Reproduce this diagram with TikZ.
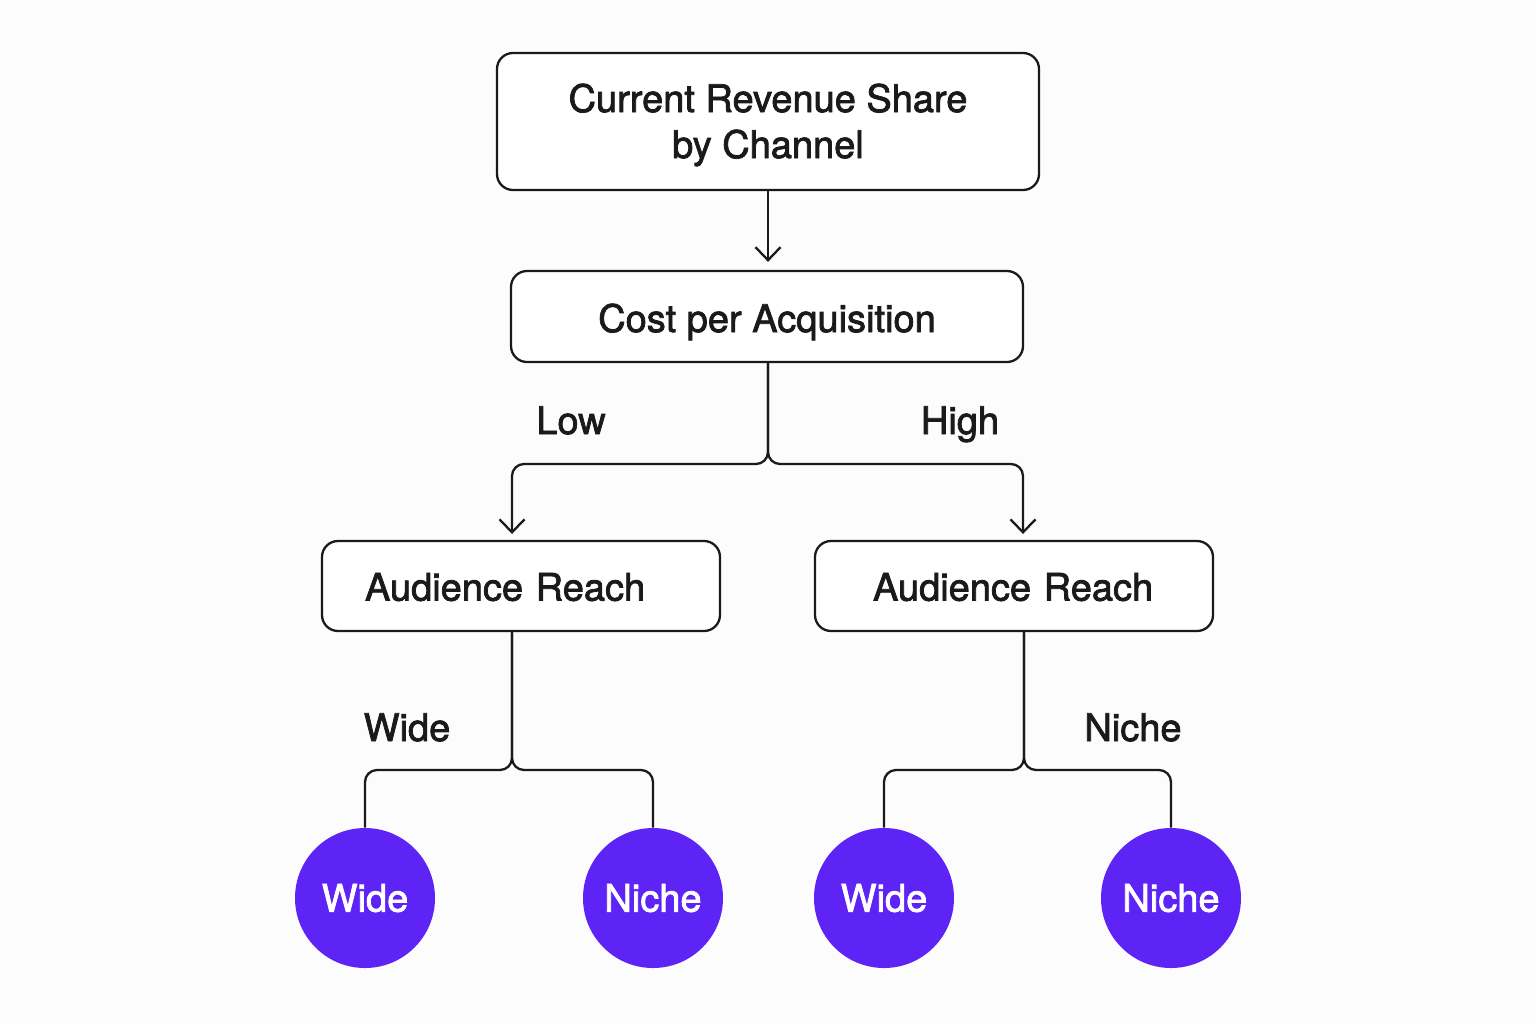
\documentclass[tikz,border=0pt]{standalone}
\usepackage{fontspec}
\setmainfont{TeX Gyre Heros}[FakeBold=2]
\usetikzlibrary{arrows.meta}
\definecolor{ink}{HTML}{1A1A1A}
\definecolor{purp}{HTML}{5E24F5}
\definecolor{bg}{HTML}{FDFCFC}
\begin{document}
\begin{tikzpicture}[x=0.5pt,y=-0.5pt,
  every node/.style={font=\fontsize{19pt}{23pt}\selectfont, text=ink},
  box/.style={draw=ink, line width=1.15pt, rounded corners=8pt, fill=white, align=center, inner sep=0pt, text height=15.5pt, text depth=0pt},
  leaf/.style={circle, fill=purp, draw=none, minimum size=70pt, inner sep=0pt, text=white, text height=13.6pt, text depth=0pt},
  lbl/.style={inner sep=0pt, anchor=base},
  conn/.style={draw=ink, line width=1.15pt, rounded corners=6pt},
  arr/.style={conn, -{Straight Barb[length=6.5pt,width=12.5pt,line width=1.15pt]}, shorten >=3.5pt}
]
\fill[bg] (0,0) rectangle (1536,1024);
\useasboundingbox (0,0) rectangle (1536,1024);

\node[box, minimum width=271pt, minimum height=68.5pt, text height=36.5pt, text depth=0pt] (top) at (768,121.5) {Current Revenue Share\\by Channel};
\node[box, minimum width=256pt, minimum height=45.5pt] (cpa) at (767,316.5) {Cost per Acquisition};
\node[box, minimum height=45pt, text width=156pt, inner xsep=21.5pt, align=left, text height=14.6pt] (arL) at (521,586) {Audience Reach};
\node[box, minimum height=45pt, text width=141pt, inner xsep=29pt, align=left, text height=14.6pt] (arR) at (1014,586) {Audience Reach};

\node[leaf] (w1) at (365,898) {Wide};
\node[leaf] (n1) at (653,898) {Niche};
\node[leaf] (w2) at (884,898) {Wide};
\node[leaf] (n2) at (1171,898) {Niche};

\node[lbl] (low) at (571,434) {Low};
\node[lbl] (high) at (960,434) {High};
\node[lbl] (wide) at (407,741) {Wide};
\node[lbl] (niche) at (1133,741) {Niche};

\coordinate (j1) at (768,464);
\coordinate (j2) at (512,770);
\coordinate (j3) at (1024,770);

\draw[arr, shorten >=4pt] (top.south -| 768,0) -- (cpa.north -| 768,0);
\draw[arr] (cpa.south -| j1) -- (j1) -| (512,541);
\draw[arr] (cpa.south -| j1) -- (j1) -| (1023,541);

\draw[conn] (arL.south -| j2) -- (j2) -| (w1.north);
\draw[conn] (arL.south -| j2) -- (j2) -| (n1.north);
\draw[conn] (arR.south -| j3) -- (j3) -| (w2.north);
\draw[conn] (arR.south -| j3) -- (j3) -| (n2.north);
\end{tikzpicture}
\end{document}
